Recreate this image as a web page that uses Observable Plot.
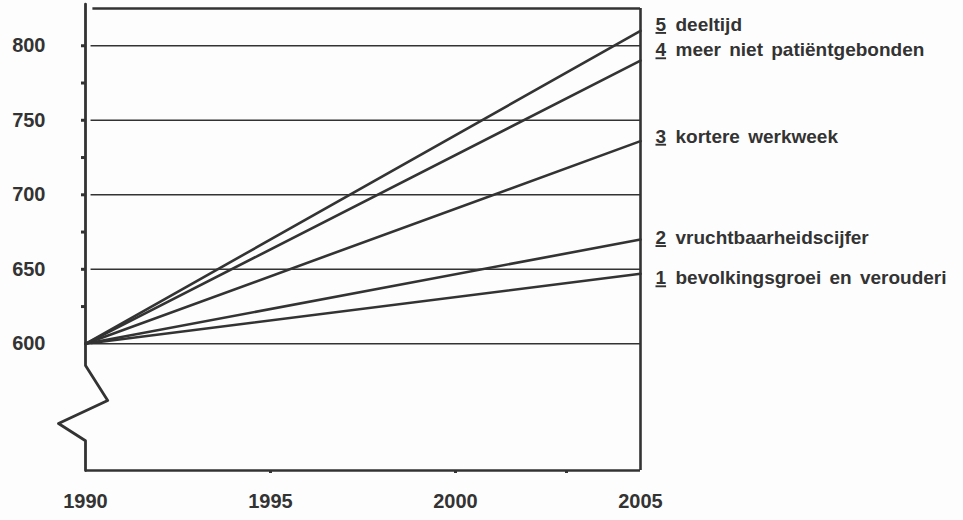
<!DOCTYPE html>
<html>
<head>
<meta charset="utf-8">
<script src="https://cdn.jsdelivr.net/npm/d3@7"></script>
<script src="https://cdn.jsdelivr.net/npm/@observablehq/plot@0.6"></script>
<style>
  html, body { margin: 0; padding: 0; background: #fdfdfd; overflow: hidden; }
  svg text { font-family: "Liberation Sans", Arial, sans-serif; font-weight: bold; }
  .lbl-num text { text-decoration: underline; }
  .lbl-name text { word-spacing: 3px; }
</style>
</head>
<body>
<div id="chart"></div>
<script>
// ---- data ----
const years = [1990, 2005];
const seriesNumbers = ["1", "2", "3", "4", "5"];
const seriesNames = ["bevolkingsgroei en verouderi", "vruchtbaarheidscijfer", "kortere werkweek", "meer niet patiëntgebonden", "deeltijd"];
const startValues = [600, 600, 600, 600, 600];
const endValues = [647, 670, 736, 790, 810];
const labelValues = [644, 671, 739, 797, 814];
const yTickLabels = [600, 650, 700, 750, 800];
const yMinorTicks = [625, 650, 675, 700, 725, 750, 775, 800];
const xTickLabels = [1990, 1995, 2000, 2005];
const xMinorTicks = [1995, 2000, 2003];
const yTop = 825, yBottom = 515;
// broken-axis zigzag on the left axis (year, value)
const breakYears = [1990, 1990, 1990.6, 1989.27, 1990, 1990];
const breakValues = [828, 585.5, 562, 546.5, 535, yBottom];

const lines = [];
seriesNumbers.forEach((n, i) => {
  lines.push({series: n, year: years[0], value: startValues[i]});
  lines.push({series: n, year: years[1], value: endValues[i]});
});
const labels = seriesNumbers.map((n, i) => ({num: n, name: seriesNames[i], value: labelValues[i]}));
const breakLine = breakYears.map((x, i) => ({x, y: breakValues[i]}));

const ink = "#333";

const plot = Plot.plot({
  width: 963,
  height: 520,
  marginLeft: 85,
  marginRight: 323,
  marginTop: 8,
  marginBottom: 50,
  style: {background: "transparent", overflow: "visible", color: ink},
  x: {domain: [1990, 2005]},
  y: {domain: [yBottom, yTop]},
  marks: [
    // gridlines
    Plot.ruleY(yTickLabels, {x1: 1990.15, x2: 2005, stroke: ink, strokeWidth: 1.4}),
    // frame: top, right, bottom
    Plot.ruleY([yTop], {x1: 1990.2, x2: 2005, stroke: ink, strokeWidth: 2.6}),
    Plot.ruleY([yBottom], {x1: 1990, x2: 2005, stroke: ink, strokeWidth: 2.6}),
    Plot.ruleX([2005], {y1: yBottom, y2: yTop, stroke: ink, strokeWidth: 2.6}),
    // left axis with break
    Plot.line(breakLine, {x: "x", y: "y", stroke: ink, strokeWidth: 2.8, strokeLinejoin: "round"}),
    // axes
    Plot.axisY(yMinorTicks, {tickSize: 4, strokeWidth: 3, stroke: ink, text: null}),
    Plot.axisY(yTickLabels, {tickSize: 0, tickPadding: 40, fontSize: 20, fill: ink}),
    Plot.axisX(xMinorTicks, {tickSize: 3, strokeWidth: 3, stroke: ink, text: null}),
    Plot.axisX(xTickLabels, {tickSize: 0, tickPadding: 23, fontSize: 20, fill: ink, tickFormat: "d"}),
    // series lines
    Plot.line(lines, {x: "year", y: "value", z: "series", stroke: ink, strokeWidth: 2.6}),
    // right labels
    Plot.text(labels, {x: () => 2005, y: "value", text: "num", dx: 15, textAnchor: "start", fontSize: 19, fill: ink, className: "lbl-num"}),
    Plot.text(labels, {x: () => 2005, y: "value", text: "name", dx: 35, textAnchor: "start", fontSize: 19, fill: ink, className: "lbl-name"})
  ]
});
document.getElementById("chart").appendChild(plot);
</script>
</body>
</html>
